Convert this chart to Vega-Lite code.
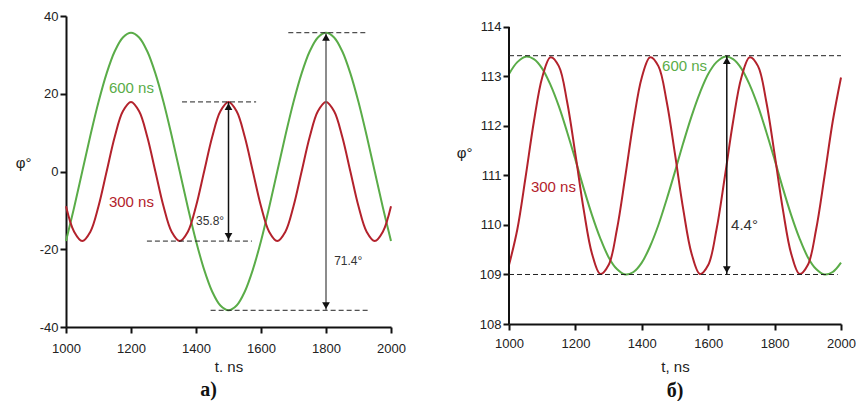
{
"$schema": "https://vega.github.io/schema/vega-lite/v6.json",
"padding": {"left": 15, "top": 10, "right": 0, "bottom": 0},
"background": "white",
"spacing": 50,
"config": {
  "font": "Liberation Sans",
  "view": {"stroke": null},
  "axis": {"grid": false, "domainColor": "#111", "domainWidth": 2, "tickColor": "#111", "tickWidth": 2, "tickSize": 6, "labelFont": "Liberation Sans", "labelFontSize": 13, "labelColor": "#222", "titleFont": "Liberation Sans", "titleFontWeight": "normal", "titleFontSize": 15, "titleColor": "#222", "labelOverlap": false, "labelExpr": "datum.value + ''"},
  "title": {"font": "Liberation Serif", "fontSize": 20, "fontWeight": "bold", "orient": "bottom", "color": "#111", "offset": 4}
},
"datasets": {
  "left": [
    {"t":1000,"phi":-17.85,"s":"600 ns"},{"t":1025,"phi":-9.24,"s":"600 ns"},{"t":1050,"phi":0,"s":"600 ns"},{"t":1075,"phi":9.24,"s":"600 ns"},{"t":1100,"phi":17.85,"s":"600 ns"},{"t":1125,"phi":25.24,"s":"600 ns"},{"t":1150,"phi":30.92,"s":"600 ns"},{"t":1175,"phi":34.48,"s":"600 ns"},{"t":1200,"phi":35.7,"s":"600 ns"},{"t":1225,"phi":34.48,"s":"600 ns"},{"t":1250,"phi":30.92,"s":"600 ns"},{"t":1275,"phi":25.24,"s":"600 ns"},{"t":1300,"phi":17.85,"s":"600 ns"},{"t":1325,"phi":9.24,"s":"600 ns"},{"t":1350,"phi":0,"s":"600 ns"},{"t":1375,"phi":-9.24,"s":"600 ns"},{"t":1400,"phi":-17.85,"s":"600 ns"},{"t":1425,"phi":-25.24,"s":"600 ns"},{"t":1450,"phi":-30.92,"s":"600 ns"},{"t":1475,"phi":-34.48,"s":"600 ns"},{"t":1500,"phi":-35.7,"s":"600 ns"},{"t":1525,"phi":-34.48,"s":"600 ns"},{"t":1550,"phi":-30.92,"s":"600 ns"},{"t":1575,"phi":-25.24,"s":"600 ns"},{"t":1600,"phi":-17.85,"s":"600 ns"},{"t":1625,"phi":-9.24,"s":"600 ns"},{"t":1650,"phi":0,"s":"600 ns"},{"t":1675,"phi":9.24,"s":"600 ns"},{"t":1700,"phi":17.85,"s":"600 ns"},{"t":1725,"phi":25.24,"s":"600 ns"},{"t":1750,"phi":30.92,"s":"600 ns"},{"t":1775,"phi":34.48,"s":"600 ns"},{"t":1800,"phi":35.7,"s":"600 ns"},{"t":1825,"phi":34.48,"s":"600 ns"},{"t":1850,"phi":30.92,"s":"600 ns"},{"t":1875,"phi":25.24,"s":"600 ns"},{"t":1900,"phi":17.85,"s":"600 ns"},{"t":1925,"phi":9.24,"s":"600 ns"},{"t":1950,"phi":0,"s":"600 ns"},{"t":1975,"phi":-9.24,"s":"600 ns"},{"t":2000,"phi":-17.85,"s":"600 ns"},
    {"t":1000,"phi":-8.95,"s":"300 ns"},{"t":1025,"phi":-15.5,"s":"300 ns"},{"t":1050,"phi":-17.9,"s":"300 ns"},{"t":1075,"phi":-15.5,"s":"300 ns"},{"t":1100,"phi":-8.95,"s":"300 ns"},{"t":1125,"phi":0,"s":"300 ns"},{"t":1150,"phi":8.95,"s":"300 ns"},{"t":1175,"phi":15.5,"s":"300 ns"},{"t":1200,"phi":17.9,"s":"300 ns"},{"t":1225,"phi":15.5,"s":"300 ns"},{"t":1250,"phi":8.95,"s":"300 ns"},{"t":1275,"phi":0,"s":"300 ns"},{"t":1300,"phi":-8.95,"s":"300 ns"},{"t":1325,"phi":-15.5,"s":"300 ns"},{"t":1350,"phi":-17.9,"s":"300 ns"},{"t":1375,"phi":-15.5,"s":"300 ns"},{"t":1400,"phi":-8.95,"s":"300 ns"},{"t":1425,"phi":0,"s":"300 ns"},{"t":1450,"phi":8.95,"s":"300 ns"},{"t":1475,"phi":15.5,"s":"300 ns"},{"t":1500,"phi":17.9,"s":"300 ns"},{"t":1525,"phi":15.5,"s":"300 ns"},{"t":1550,"phi":8.95,"s":"300 ns"},{"t":1575,"phi":0,"s":"300 ns"},{"t":1600,"phi":-8.95,"s":"300 ns"},{"t":1625,"phi":-15.5,"s":"300 ns"},{"t":1650,"phi":-17.9,"s":"300 ns"},{"t":1675,"phi":-15.5,"s":"300 ns"},{"t":1700,"phi":-8.95,"s":"300 ns"},{"t":1725,"phi":0,"s":"300 ns"},{"t":1750,"phi":8.95,"s":"300 ns"},{"t":1775,"phi":15.5,"s":"300 ns"},{"t":1800,"phi":17.9,"s":"300 ns"},{"t":1825,"phi":15.5,"s":"300 ns"},{"t":1850,"phi":8.95,"s":"300 ns"},{"t":1875,"phi":0,"s":"300 ns"},{"t":1900,"phi":-8.95,"s":"300 ns"},{"t":1925,"phi":-15.5,"s":"300 ns"},{"t":1950,"phi":-17.9,"s":"300 ns"},{"t":1975,"phi":-15.5,"s":"300 ns"},{"t":2000,"phi":-8.95,"s":"300 ns"}
  ],
  "right": [
    {"t":1000,"phi":113.05,"s":"600 ns"},{"t":1025,"phi":113.29,"s":"600 ns"},{"t":1050,"phi":113.4,"s":"600 ns"},{"t":1075,"phi":113.35,"s":"600 ns"},{"t":1100,"phi":113.16,"s":"600 ns"},{"t":1125,"phi":112.83,"s":"600 ns"},{"t":1150,"phi":112.4,"s":"600 ns"},{"t":1175,"phi":111.88,"s":"600 ns"},{"t":1200,"phi":111.32,"s":"600 ns"},{"t":1225,"phi":110.74,"s":"600 ns"},{"t":1250,"phi":110.2,"s":"600 ns"},{"t":1275,"phi":109.73,"s":"600 ns"},{"t":1300,"phi":109.35,"s":"600 ns"},{"t":1325,"phi":109.11,"s":"600 ns"},{"t":1350,"phi":109.0,"s":"600 ns"},{"t":1375,"phi":109.05,"s":"600 ns"},{"t":1400,"phi":109.24,"s":"600 ns"},{"t":1425,"phi":109.57,"s":"600 ns"},{"t":1450,"phi":110.0,"s":"600 ns"},{"t":1475,"phi":110.52,"s":"600 ns"},{"t":1500,"phi":111.08,"s":"600 ns"},{"t":1525,"phi":111.66,"s":"600 ns"},{"t":1550,"phi":112.2,"s":"600 ns"},{"t":1575,"phi":112.67,"s":"600 ns"},{"t":1600,"phi":113.05,"s":"600 ns"},{"t":1625,"phi":113.29,"s":"600 ns"},{"t":1650,"phi":113.4,"s":"600 ns"},{"t":1675,"phi":113.35,"s":"600 ns"},{"t":1700,"phi":113.16,"s":"600 ns"},{"t":1725,"phi":112.83,"s":"600 ns"},{"t":1750,"phi":112.4,"s":"600 ns"},{"t":1775,"phi":111.88,"s":"600 ns"},{"t":1800,"phi":111.32,"s":"600 ns"},{"t":1825,"phi":110.74,"s":"600 ns"},{"t":1850,"phi":110.2,"s":"600 ns"},{"t":1875,"phi":109.73,"s":"600 ns"},{"t":1900,"phi":109.35,"s":"600 ns"},{"t":1925,"phi":109.11,"s":"600 ns"},{"t":1950,"phi":109.0,"s":"600 ns"},{"t":1975,"phi":109.05,"s":"600 ns"},{"t":2000,"phi":109.24,"s":"600 ns"},
    {"t":1000,"phi":109.19,"s":"300 ns"},{"t":1025,"phi":109.91,"s":"300 ns"},{"t":1050,"phi":110.97,"s":"300 ns"},{"t":1075,"phi":112.09,"s":"300 ns"},{"t":1100,"phi":112.98,"s":"300 ns"},{"t":1125,"phi":113.39,"s":"300 ns"},{"t":1150,"phi":113.21,"s":"300 ns"},{"t":1175,"phi":112.49,"s":"300 ns"},{"t":1200,"phi":111.43,"s":"300 ns"},{"t":1225,"phi":110.31,"s":"300 ns"},{"t":1250,"phi":109.42,"s":"300 ns"},{"t":1275,"phi":109.01,"s":"300 ns"},{"t":1300,"phi":109.19,"s":"300 ns"},{"t":1325,"phi":109.91,"s":"300 ns"},{"t":1350,"phi":110.97,"s":"300 ns"},{"t":1375,"phi":112.09,"s":"300 ns"},{"t":1400,"phi":112.98,"s":"300 ns"},{"t":1425,"phi":113.39,"s":"300 ns"},{"t":1450,"phi":113.21,"s":"300 ns"},{"t":1475,"phi":112.49,"s":"300 ns"},{"t":1500,"phi":111.43,"s":"300 ns"},{"t":1525,"phi":110.31,"s":"300 ns"},{"t":1550,"phi":109.42,"s":"300 ns"},{"t":1575,"phi":109.01,"s":"300 ns"},{"t":1600,"phi":109.19,"s":"300 ns"},{"t":1625,"phi":109.91,"s":"300 ns"},{"t":1650,"phi":110.97,"s":"300 ns"},{"t":1675,"phi":112.09,"s":"300 ns"},{"t":1700,"phi":112.98,"s":"300 ns"},{"t":1725,"phi":113.39,"s":"300 ns"},{"t":1750,"phi":113.21,"s":"300 ns"},{"t":1775,"phi":112.49,"s":"300 ns"},{"t":1800,"phi":111.43,"s":"300 ns"},{"t":1825,"phi":110.31,"s":"300 ns"},{"t":1850,"phi":109.42,"s":"300 ns"},{"t":1875,"phi":109.01,"s":"300 ns"},{"t":1900,"phi":109.19,"s":"300 ns"},{"t":1925,"phi":109.91,"s":"300 ns"},{"t":1950,"phi":110.97,"s":"300 ns"},{"t":1975,"phi":112.09,"s":"300 ns"},{"t":2000,"phi":112.98,"s":"300 ns"}
  ],
  "leftDash": [{"x1":1357,"x2":1585,"y":17.9},{"x1":1249,"x2":1572,"y":-17.9},{"x1":1684,"x2":1927,"y":35.7},{"x1":1445,"x2":1932,"y":-35.7}],
  "leftArrow": [{"x":1500,"y1":17.9,"y2":-17.9},{"x":1800,"y1":35.7,"y2":-35.7}],
  "leftHead": [{"t":1500,"phi":16.7,"d":"up"},{"t":1500,"phi":-16.7,"d":"down"},{"t":1800,"phi":34.5,"d":"up"},{"t":1800,"phi":-34.5,"d":"down"}],
  "leftLabels": [{"t":1132,"phi":21.5,"s":"600 ns"},{"t":1132,"phi":-7.8,"s":"300 ns"}],
  "leftNotes": [{"t":1400,"phi":-12.7,"label":"35.8°"},{"t":1825,"phi":-23,"label":"71.4°"}],
  "rightAxis": [{"x":1000,"y1":108,"y2":114}],
  "rightDash": [{"x1":1000,"x2":2000,"y":113.42},{"x1":1000,"x2":1990,"y":109.0}],
  "rightArrow": [{"x":1656,"y1":113.42,"y2":109.0}],
  "rightHead": [{"t":1656,"phi":113.32,"d":"up"},{"t":1656,"phi":109.1,"d":"down"}],
  "rightLabels": [{"t":1461,"phi":113.21,"s":"600 ns"},{"t":1066,"phi":110.77,"s":"300 ns"}],
  "rightNotes": [{"t":1669,"phi":110.0,"label":"4.4°"}]
},
"hconcat": [
  {
    "width": 325, "height": 311,
    "title": {"text": "a)", "dx": -20, "offset": 6},
    "layer": [
      {"data": {"name": "left"}, "mark": {"type": "line", "strokeWidth": 2, "interpolate": "catmull-rom"},
       "encoding": {
         "x": {"field": "t", "type": "quantitative", "scale": {"domain": [1000, 2000], "nice": false}, "axis": {"values": [1000,1200,1400,1600,1800,2000], "title": "t. ns", "labelPadding": 9, "titlePadding": 4, "labelFlush": false}},
         "y": {"field": "phi", "type": "quantitative", "scale": {"domain": [-40, 40], "nice": false, "zero": false}, "axis": {"values": [-40,-20,0,20,40], "title": "φ°", "titleAngle": 0, "titleAlign": "right", "titleBaseline": "middle", "titleX": -35, "titleY": 146, "labelPadding": 2}},
         "color": {"field": "s", "type": "nominal", "scale": {"domain": ["600 ns", "300 ns"], "range": ["#5aac48", "#b3222c"]}, "legend": null}
       }},
      {"data": {"name": "leftDash"}, "mark": {"type": "rule", "strokeDash": [5, 3], "color": "#222", "strokeWidth": 1},
       "encoding": {"x": {"field": "x1", "type": "quantitative"}, "x2": {"field": "x2"}, "y": {"field": "y", "type": "quantitative"}}},
      {"data": {"name": "leftArrow"}, "mark": {"type": "rule", "strokeWidth": 1.5},
       "encoding": {"x": {"field": "x", "type": "quantitative"}, "y": {"field": "y1", "type": "quantitative"}, "y2": {"field": "y2"},
         "color": {"condition": {"test": "datum.x == 1800", "value": "#666"}, "value": "#111"}}},
      {"data": {"name": "leftHead"}, "mark": {"type": "point", "filled": true, "opacity": 1, "size": 60, "color": "#111"},
       "encoding": {"x": {"field": "t", "type": "quantitative"}, "y": {"field": "phi", "type": "quantitative"},
         "shape": {"field": "d", "type": "nominal", "scale": {"domain": ["up", "down"], "range": ["triangle-up", "triangle-down"]}, "legend": null}}},
      {"data": {"name": "leftLabels"}, "mark": {"type": "text", "align": "left", "baseline": "middle", "fontSize": 15},
       "encoding": {"x": {"field": "t", "type": "quantitative"}, "y": {"field": "phi", "type": "quantitative"}, "text": {"field": "s"}, "color": {"field": "s", "type": "nominal", "legend": null}}},
      {"data": {"name": "leftNotes"}, "mark": {"type": "text", "align": "left", "baseline": "middle", "fontSize": 12, "color": "#333"},
       "encoding": {"x": {"field": "t", "type": "quantitative"}, "y": {"field": "phi", "type": "quantitative"}, "text": {"field": "label"}}}
    ]
  },
  {
    "width": 332, "height": 308,
    "title": {"text": "б)", "offset": 7},
    "layer": [
      {"data": {"name": "right"}, "mark": {"type": "line", "strokeWidth": 2, "interpolate": "catmull-rom"},
       "encoding": {
         "x": {"field": "t", "type": "quantitative", "scale": {"domain": [1000, 2000], "nice": false}, "axis": {"values": [1000,1200,1400,1600,1800,2000], "title": "t, ns", "labelPadding": 7, "titlePadding": 9, "labelFlush": false}},
         "y": {"field": "phi", "type": "quantitative", "scale": {"domain": [108, 114.222], "nice": false, "zero": false}, "axis": {"values": [108,109,110,111,112,113,114], "title": "φ°", "domain": false, "titleAngle": 0, "titleAlign": "right", "titleBaseline": "middle", "titleX": -37, "titleY": 136, "labelPadding": 2}},
         "color": {"field": "s", "type": "nominal", "legend": null}
       }},
      {"data": {"name": "rightAxis"}, "mark": {"type": "rule", "strokeWidth": 2, "color": "#111"},
       "encoding": {"x": {"field": "x", "type": "quantitative"}, "y": {"field": "y1", "type": "quantitative"}, "y2": {"field": "y2"}}},
      {"data": {"name": "rightDash"}, "mark": {"type": "rule", "strokeDash": [5, 3], "color": "#222", "strokeWidth": 1},
       "encoding": {"x": {"field": "x1", "type": "quantitative"}, "x2": {"field": "x2"}, "y": {"field": "y", "type": "quantitative"}}},
      {"data": {"name": "rightArrow"}, "mark": {"type": "rule", "strokeWidth": 1.5, "color": "#111"},
       "encoding": {"x": {"field": "x", "type": "quantitative"}, "y": {"field": "y1", "type": "quantitative"}, "y2": {"field": "y2"}}},
      {"data": {"name": "rightHead"}, "mark": {"type": "point", "filled": true, "opacity": 1, "size": 60, "color": "#111"},
       "encoding": {"x": {"field": "t", "type": "quantitative"}, "y": {"field": "phi", "type": "quantitative"},
         "shape": {"field": "d", "type": "nominal", "legend": null}}},
      {"data": {"name": "rightLabels"}, "mark": {"type": "text", "align": "left", "baseline": "middle", "fontSize": 15},
       "encoding": {"x": {"field": "t", "type": "quantitative"}, "y": {"field": "phi", "type": "quantitative"}, "text": {"field": "s"}, "color": {"field": "s", "type": "nominal", "legend": null}}},
      {"data": {"name": "rightNotes"}, "mark": {"type": "text", "align": "left", "baseline": "middle", "fontSize": 15, "color": "#333"},
       "encoding": {"x": {"field": "t", "type": "quantitative"}, "y": {"field": "phi", "type": "quantitative"}, "text": {"field": "label"}}}
    ]
  }
]
}
